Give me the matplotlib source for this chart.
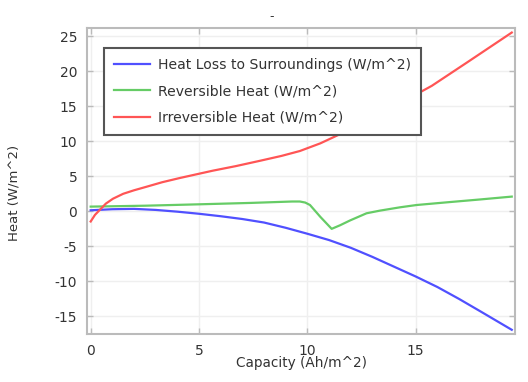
import numpy as np
import matplotlib
matplotlib.use("Agg")
import matplotlib.pyplot as plt

plt.rcParams["axes.unicode_minus"] = False

# Data
x_loss = [0.0, 1.0, 2.0, 3.0, 4.0, 5.0, 6.0, 7.0, 8.0, 9.0, 10.0, 11.0, 12.0,
          13.0, 14.0, 15.0, 16.0, 17.0, 18.0, 19.43]
y_loss = [0.15, 0.3, 0.35, 0.2, -0.05, -0.35, -0.7, -1.1, -1.6, -2.35, -3.2, -4.1,
          -5.2, -6.5, -7.9, -9.3, -10.8, -12.5, -14.3, -16.9]

x_rev = [0.0, 2.5, 5.0, 7.4, 9.3, 9.65, 9.9, 10.12, 10.6, 11.12, 11.5, 11.97,
         12.73, 13.35, 14.27, 15.04, 16.5, 18.0, 19.43]
y_rev = [0.67, 0.8, 1.0, 1.2, 1.4, 1.4, 1.25, 0.9, -0.8, -2.5, -2.0, -1.3,
         -0.28, 0.1, 0.57, 0.9, 1.3, 1.7, 2.1]

x_irr = [0.0, 0.2, 0.42, 0.7, 1.03, 1.5, 2.0, 2.57, 3.3, 4.11, 5.64, 6.7, 7.8,
         8.8, 9.65, 10.6, 11.5, 12.5, 13.5, 14.5, 15.74, 17.35, 19.43]
y_irr = [-1.45, -0.5, 0.2, 1.1, 1.8, 2.5, 3.0, 3.5, 4.15, 4.75, 5.8, 6.45, 7.2,
         7.9, 8.6, 9.7, 11.0, 12.5, 14.1, 15.8, 17.9, 21.2, 25.5]

labels = ["Heat Loss to Surroundings (W/m^2)", "Reversible Heat (W/m^2)",
          "Irreversible Heat (W/m^2)"]
x_ticks = [0, 5, 10, 15]
y_ticks = [-15, -10, -5, 0, 5, 10, 15, 20, 25]

fig = plt.figure(figsize=(5.28, 3.82), dpi=100)
ax = fig.add_axes([87/528, 48/382, (515-87)/528, (334-28)/382])

txt = "#333333"
ax.plot(x_loss, y_loss, color="#5050ff", lw=1.6, label=labels[0])
ax.plot(x_rev, y_rev, color="#66cc66", lw=1.6, label=labels[1])
ax.plot(x_irr, y_irr, color="#ff5555", lw=1.6, label=labels[2])

ax.set_xlim(-0.17, 19.58)
ax.set_ylim(-17.5, 26.15)
ax.set_xticks(x_ticks)
ax.set_yticks(y_ticks)
ax.grid(True, color="#efefef", lw=1.0)
ax.set_axisbelow(True)
for s in ax.spines.values():
    s.set_color("#bbbbbb")
    s.set_linewidth(1.5)
ax.tick_params(direction="in", top=True, right=True, length=4, width=1,
               color="#bbbbbb", labelsize=10, labelcolor=txt, pad=7)

ax.set_xlabel("Capacity (Ah/m^2)", fontsize=9.8, color=txt, labelpad=-1)
ax.set_ylabel("Heat (W/m^2)", fontsize=9.5, color=txt)
ax.yaxis.set_label_coords(-0.155, 0.46)

leg = ax.legend(loc="upper left", bbox_to_anchor=(0.04, 0.935), borderaxespad=0,
                fancybox=False, fontsize=10.1, handlelength=2.6, labelspacing=0.9,
                framealpha=1, edgecolor="#555555", borderpad=0.7, handletextpad=0.55)
leg.get_frame().set_linewidth(1.5)
for t in leg.get_texts():
    t.set_color(txt)

fig.text(0.515, 0.975, "-", ha="center", va="top", fontsize=9, color=txt)

fig.savefig("out.png", dpi=100)
